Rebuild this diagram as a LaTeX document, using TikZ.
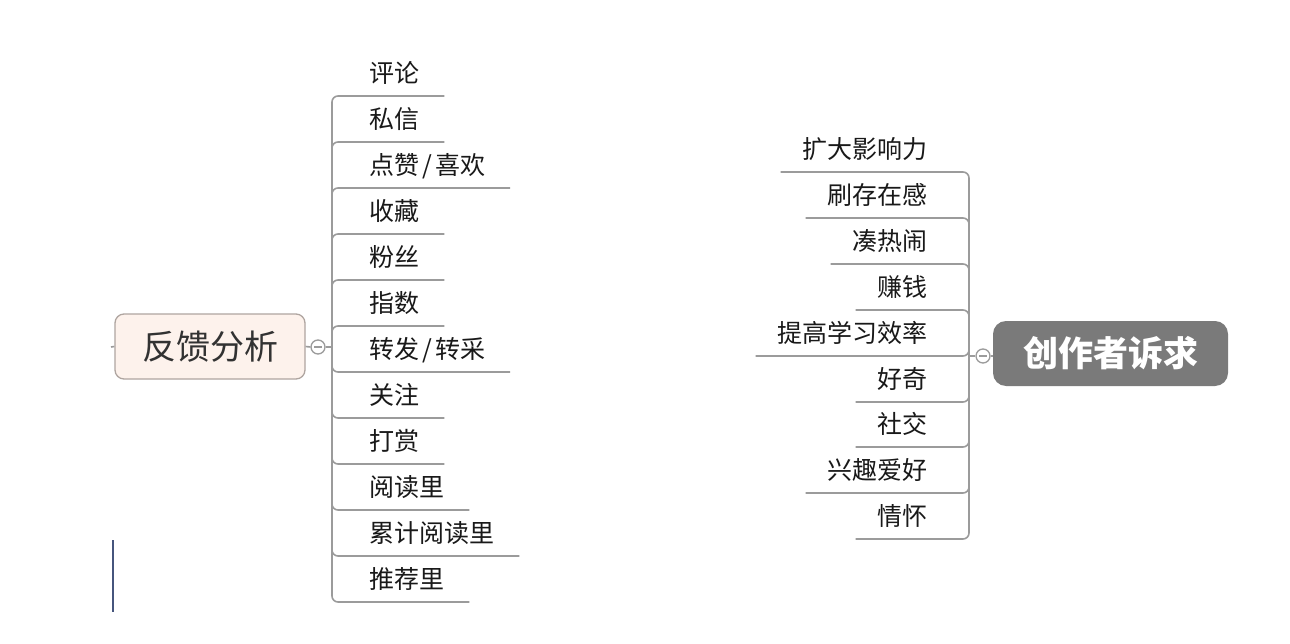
\documentclass[tikz,border=0pt]{standalone}
\usepackage{fontspec}
\setmainfont{Noto Sans CJK SC}
\begin{document}
\begin{tikzpicture}[x=1pt,y=-1pt,
  branch/.style={draw=linegray,line width=1.6pt,rounded corners=6pt},
  itemL/.style={anchor=south west,inner xsep=25pt,inner ysep=8.4pt,text height=18pt,text depth=5pt,font=\fontsize{25}{27}\selectfont,text=textdark},
  itemR/.style={anchor=south east,inner xsep=22pt,inner ysep=8.4pt,text height=18pt,text depth=5pt,font=\fontsize{25}{27}\selectfont,text=textdark},
  hubcirc/.style={circle,draw=linegray,line width=1.3pt,fill=white,minimum size=14pt,inner sep=0pt},
  minus/.style={draw=linegray,line width=1.3pt}
]
\definecolor{linegray}{RGB}{155,155,155}
\definecolor{textdark}{RGB}{25,25,25}
\definecolor{peach}{RGB}{253,242,236}
\definecolor{peachborder}{RGB}{175,165,160}
\definecolor{rootgray}{RGB}{122,122,122}
\definecolor{bluegray}{RGB}{70,85,125}
\useasboundingbox[fill=white] (0,0) rectangle (1290,644);

% ---------- left root ----------
\node[draw=peachborder,fill=peach,line width=1.3pt,rounded corners=9pt,minimum width=190pt,minimum height=65pt,inner sep=0pt,font=\fontsize{34}{36}\selectfont,text={rgb,255:red,50;green,50;blue,50}] (rootL) at (210,346.5) {反馈分析};
\coordinate (tickL) at (111,347);
\draw[branch] (rootL.west) -- (tickL);
\node[hubcirc] (cl) at (318,347) {};
\coordinate (hubL) at (332,347);
\draw[branch] (rootL.east) -- (cl.west);
\draw[branch] (cl.east) -- (hubL);
\draw[minus] ([xshift=-4pt]cl.center) -- ([xshift=4pt]cl.center);

\node[itemL] (l1) at (344,96) {评论};
\node[itemL] (l2) at (344,142) {私信};
\node[itemL] (l3) at (344,188) {点赞\kern3pt/\kern3pt喜欢};
\node[itemL] (l4) at (344,234) {收藏};
\node[itemL] (l5) at (344,280) {粉丝};
\node[itemL] (l6) at (344,326) {指数};
\node[itemL] (l7) at (344,372) {转发\kern3pt/\kern3pt转采};
\node[itemL] (l8) at (344,418) {关注};
\node[itemL] (l9) at (344,464) {打赏};
\node[itemL] (l10) at (344,510) {阅读里};
\node[itemL] (l11) at (344,556) {累计阅读里};
\node[itemL] (l12) at (344,602) {推荐里};
\foreach \n in {l1,l2,l3,l4,l5,l6,l7,l8,l9,l10,l11,l12}
  \draw[branch] (hubL) |- (\n.south east);

% ---------- right root ----------
\node[fill=rootgray,rounded corners=13pt,minimum width=235pt,minimum height=65pt,inner sep=0pt,font=\fontsize{35}{37}\selectfont\bfseries,text=white] (rootR) at (1110.5,353.5) {创作者诉求};
\node[hubcirc] (cr) at (983,356) {};
\coordinate (hubR) at (969,356);
\draw[branch] (rootR.west |- cr.east) -- (cr.east);
\draw[branch] (cr.west) -- (hubR);
\draw[minus] ([xshift=-4pt]cr.center) -- ([xshift=4pt]cr.center);

\node[itemR] (r1) at (950,172) {扩大影响力};
\node[itemR] (r2) at (950,218) {刷存在感};
\node[itemR] (r3) at (950,264) {凑热闹};
\node[itemR] (r4) at (950,310) {赚钱};
\node[itemR] (r5) at (950,356) {提高学习效率};
\node[itemR] (r6) at (950,402) {好奇};
\node[itemR] (r7) at (950,447) {社交};
\node[itemR] (r8) at (950,493) {兴趣爱好};
\node[itemR] (r9) at (950,539) {情怀};
\foreach \n in {r1,r2,r3,r4,r5,r6,r7,r8,r9}
  \draw[branch] (hubR) |- (\n.south west);

% ---------- stray blue mark ----------
\coordinate (bl1) at (113,540);
\coordinate (bl2) at (113,612);
\draw[bluegray,line width=1.8pt] (bl1) -- (bl2);
\end{tikzpicture}
\end{document}
